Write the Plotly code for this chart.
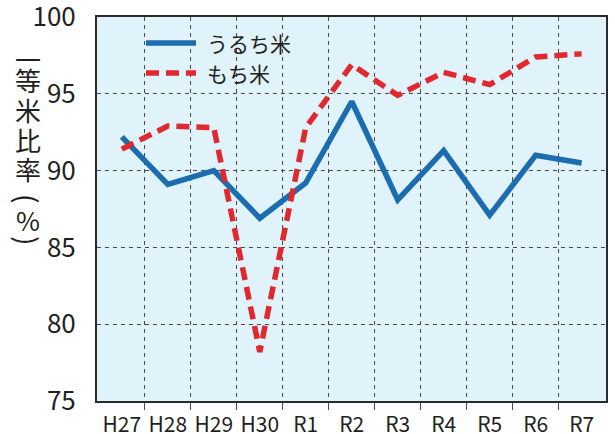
import plotly.graph_objects as go

years = ["H27", "H28", "H29", "H30", "R1", "R2", "R3", "R4", "R5", "R6", "R7"]
uruchi = [92.2, 89.1, 90.0, 86.9, 89.2, 94.5, 88.1, 91.3, 87.1, 91.0, 90.5]
mochi = [91.4, 92.9, 92.8, 78.2, 92.8, 96.9, 94.9, 96.4, 95.6, 97.4, 97.6]
y_ticks = [75, 80, 85, 90, 95, 100]

FONT = "Noto Sans CJK JP"
BLUE = "#1b6db0"
RED = "#e0282e"
GRID = "#4a4a4a"
DASH = "13px,7px"

x = list(range(len(years)))

fig = go.Figure()
fig.add_trace(
    go.Scatter(x=x, y=uruchi, mode="lines", name="うるち米",
               line={"color": BLUE, "width": 5.5})
)
fig.add_trace(
    go.Scatter(x=x, y=mochi, mode="lines", name="もち米",
               line={"color": RED, "width": 5.5, "dash": DASH})
)

fig.update_layout(
    width=615,
    height=434,
    margin={"l": 97, "r": 9, "t": 17, "b": 33},
    paper_bgcolor="white",
    plot_bgcolor="#e0f2fa",
    font={"family": FONT, "color": "#231f20"},
    showlegend=False,
    xaxis={
        "range": [-0.54, 10.53],
        "tickvals": x,
        "ticktext": years,
        "showgrid": False,
        "ticks": "",
        "tickfont": {"size": 21},
        "ticklabelstandoff": 4,
        # gridlines and little ticks at the category boundaries
        "minor": {
            "tickmode": "array",
            "tickvals": [i + 0.5 for i in x[:-1]],
            "showgrid": True,
            "gridcolor": GRID,
            "griddash": "4px,4px",
            "gridwidth": 1,
            "ticks": "outside",
            "ticklen": 7,
            "tickcolor": GRID,
        },
        "showline": True,
        "linecolor": "#2b2b2b",
        "linewidth": 2,
        "mirror": True,
        "zeroline": False,
        "automargin": False,
        "fixedrange": True,
    },
    yaxis={
        "range": [75, 100.001],
        "tickvals": y_ticks,
        "showgrid": True,
        "gridcolor": GRID,
        "griddash": "4px,4px",
        "gridwidth": 1,
        "ticks": "",
        "tickfont": {"size": 26},
        "ticklabelstandoff": 14,
        "ticklabeloverflow": "allow",
        "showline": True,
        "linecolor": "#2b2b2b",
        "linewidth": 2,
        "mirror": True,
        "zeroline": False,
        "automargin": False,
        "fixedrange": True,
    },
)

# legend drawn inside the plot, top left
legend_items = [("うるち米", BLUE, "solid", 43), ("もち米", RED, DASH, 73)]
for label, color, dash, ypx in legend_items:
    yp = (401 - ypx) / 384
    fig.add_shape(
        type="line", xref="paper", yref="paper",
        x0=(146 - 97) / 509, x1=(196 - 97) / 509, y0=yp, y1=yp,
        line={"color": color, "width": 5.5, "dash": dash},
    )
    fig.add_annotation(
        text=label, xref="paper", yref="paper",
        x=(205 - 97) / 509, y=yp, xanchor="left", yanchor="middle",
        showarrow=False, font={"size": 21},
    )

# vertical y-axis title 一等米比率（%）, one character per row,
# brackets turned 90 degrees like vertical Japanese typesetting
title_chars = [("一", 0, 26), ("等", 0, 26), ("米", 0, 26), ("比", 0, 26),
               ("率", 0, 26), ("(", 90, 28), ("%", 0, 26), (")", 90, 28)]
title_y = [58, 79, 109, 139, 168, 198, 220, 240]
for (ch, ang, size), ypx in zip(title_chars, title_y):
    fig.add_annotation(
        text=ch, xref="paper", yref="paper",
        x=0, xshift=28 - 97, y=(401 - ypx) / 384,
        xanchor="center", yanchor="middle", textangle=ang,
        showarrow=False, font={"size": size},
    )

# the page's default 8px body margin would push the chart off the window
fig.write_html(
    "out.html",
    config={"displayModeBar": False},
    post_script="document.body.style.margin='0';",
)
